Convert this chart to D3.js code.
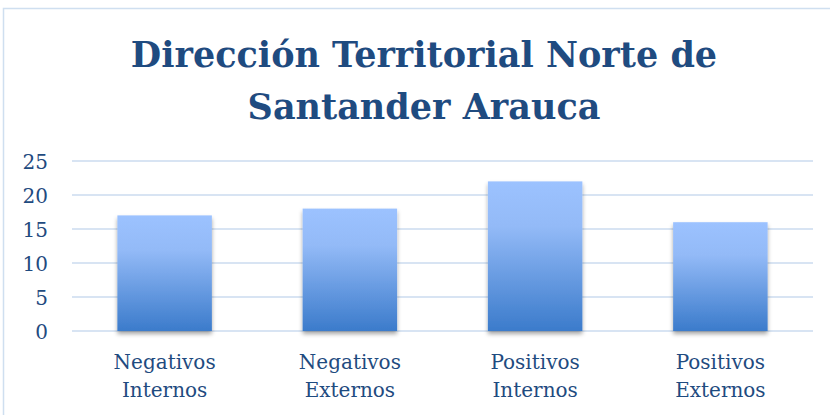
<!DOCTYPE html>
<html>
<head>
<meta charset="utf-8">
<script src="https://cdn.jsdelivr.net/npm/d3@7"></script>
<style>
  body { margin: 0; background: #fff; }
  #vis { width: 830px; height: 415px; }
</style>
</head>
<body>
<div id="vis"></div>
<script>
// chart data
var categories = [["Negativos", "Internos"], ["Negativos", "Externos"], ["Positivos", "Internos"], ["Positivos", "Externos"]];
var values = [17, 18, 22, 16];
var yTicks = [0, 5, 10, 15, 20, 25];
var titleLines = ["Dirección Territorial Norte de", "Santander Arauca"];

var width = 830, height = 415;
var margin = { top: 161, bottom: 84, left: 72, right: 17 };

var svg = d3.select('#vis')
    .append('svg')
    .attr('width', width)
    .attr('height', height);

var defs = svg.append('defs');
var grad = defs.append('linearGradient')
    .attr('id', 'barGrad')
    .attr('x1', 0).attr('y1', 0).attr('x2', 0).attr('y2', 1);
grad.append('stop').attr('offset', '0%').attr('stop-color', '#9cc2ff');
grad.append('stop').attr('offset', '30%').attr('stop-color', '#93baf7');
grad.append('stop').attr('offset', '100%').attr('stop-color', '#3b7bcb');

var shadow = defs.append('filter')
    .attr('id', 'shadow')
    .attr('x', '-10%').attr('y', '-10%').attr('width', '120%').attr('height', '120%');
shadow.append('feDropShadow')
    .attr('dx', 0).attr('dy', 3)
    .attr('stdDeviation', 2)
    .attr('flood-color', '#000')
    .attr('flood-opacity', 0.35);

// chart border
svg.append('path')
    .attr('d', 'M3.5,415 L3.5,8.5 L830,8.5')
    .attr('fill', 'none')
    .attr('stroke', '#cfdff0')
    .attr('stroke-width', 1.5);

var serif = "'DejaVu Serif', serif";

// title
svg.append('text')
    .attr('x', 424)
    .attr('text-anchor', 'middle')
    .attr('fill', '#1f4b80')
    .style('font-family', serif)
    .style('font-weight', 'bold')
    .style('font-size', '35px')
    .selectAll('tspan')
    .data(titleLines)
    .enter()
    .append('tspan')
    .attr('x', 424)
    .attr('y', function(d, i) { return 67 + i * 52; })
    .text(function(d) { return d; });

var plotW = width - margin.left - margin.right;
var plotH = height - margin.top - margin.bottom;

var g = svg.append('g')
    .attr('transform', 'translate(' + margin.left + ',' + margin.top + ')');

var x_scale = d3.scaleBand()
    .domain(d3.range(values.length))
    .range([0, plotW])
    .paddingInner(0.49)
    .paddingOuter(0.245);

var y_scale = d3.scaleLinear()
    .domain([0, 25])
    .range([plotH, 0]);

// gridlines
g.selectAll('.grid')
    .data(yTicks)
    .enter()
    .append('line')
    .attr('class', 'grid')
    .attr('x1', 0)
    .attr('x2', plotW)
    .attr('y1', function(d) { return y_scale(d); })
    .attr('y2', function(d) { return y_scale(d); })
    .attr('stroke', '#d8e4f3')
    .attr('stroke-width', 2);

// y axis labels
var y_axis = d3.axisLeft(y_scale)
    .tickValues(yTicks)
    .tickSize(0)
    .tickPadding(24);

g.append('g')
    .attr('class', 'y axis')
    .call(y_axis)
    .call(function(a) { a.select('.domain').remove(); })
    .selectAll('text')
    .attr('fill', '#1f4b80')
    .attr('dy', '0.38em')
    .style('font-family', serif)
    .style('font-size', '20px');

// bars
g.selectAll('.bar')
    .data(values)
    .enter()
    .append('rect')
    .attr('class', 'bar')
    .attr('x', function(d, i) { return x_scale(i); })
    .attr('width', x_scale.bandwidth())
    .attr('y', function(d) { return y_scale(d); })
    .attr('height', function(d) { return y_scale(0) - y_scale(d); })
    .attr('fill', 'url(#barGrad)')
    .attr('filter', 'url(#shadow)');

// category labels
var labels = g.selectAll('.cat')
    .data(categories)
    .enter()
    .append('text')
    .attr('class', 'cat')
    .attr('text-anchor', 'middle')
    .attr('fill', '#1f4b80')
    .style('font-family', serif)
    .style('font-size', '20px');

labels.selectAll('tspan')
    .data(function(d, i) { return d.map(function(t) { return { t: t, i: i }; }); })
    .enter()
    .append('tspan')
    .attr('x', function(d) { return x_scale(d.i) + x_scale.bandwidth() / 2; })
    .attr('y', function(d, j) { return plotH + 38 + j * 28; })
    .text(function(d) { return d.t; });
</script>
</body>
</html>
